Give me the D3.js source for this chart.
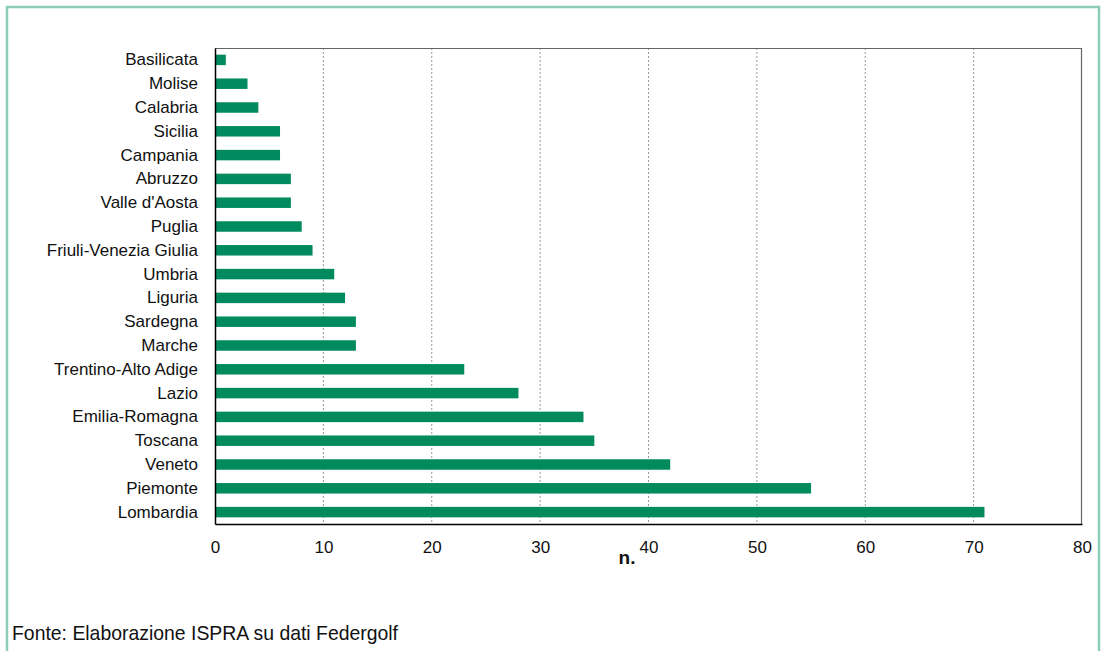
<!DOCTYPE html>
<html>
<head>
<meta charset="utf-8">
<script src="https://cdn.jsdelivr.net/npm/d3@7"></script>
<style>
  body { margin: 0; background: #fff; }
  text { font-family: "Liberation Sans", Arial, sans-serif; fill: #111; }
</style>
</head>
<body>
<script>
// regioni, dall'alto in basso
const regioni = ['Basilicata', 'Molise', 'Calabria', 'Sicilia', 'Campania', 'Abruzzo',
  "Valle d'Aosta", 'Puglia', 'Friuli-Venezia Giulia', 'Umbria', 'Liguria', 'Sardegna',
  'Marche', 'Trentino-Alto Adige', 'Lazio', 'Emilia-Romagna', 'Toscana', 'Veneto',
  'Piemonte', 'Lombardia'];
const campi = [1, 3, 4, 6, 6, 7, 7, 8, 9, 11, 12, 13, 13, 23, 28, 34, 35, 42, 55, 71];
const xTicks = [0, 10, 20, 30, 40, 50, 60, 70, 80];

const w = 1104, h = 651;
const pLeft = 215, pRight = 1082, pTop = 48, pBottom = 524;

const svg = d3.select('body').append('svg')
  .attr('width', w).attr('height', h);

// cornice
svg.append('path')
  .attr('d', `M7,${h} V7 H1099 V${h}`)
  .attr('fill', 'none').attr('stroke', '#8ccdb5').attr('stroke-width', 2.5);

const x = d3.scaleLinear().domain([0, 80]).range([pLeft, pRight]);
const y = d3.scaleBand().domain(regioni).range([pTop, pBottom]).paddingInner(0.56).paddingOuter(0.28);

// griglia
svg.append('g').selectAll('line')
  .data(xTicks.slice(1, -1))
  .enter().append('line')
  .attr('x1', d => x(d)).attr('x2', d => x(d))
  .attr('y1', pTop).attr('y2', pBottom)
  .attr('stroke', '#999').attr('stroke-dasharray', '2,2').attr('stroke-width', 1);

// riquadro superiore/destro
svg.append('path')
  .attr('d', `M${pLeft},${pTop + 0.5} H${pRight - 0.5} V${pBottom}`)
  .attr('fill', 'none').attr('stroke', '#666').attr('stroke-width', 1.2);

svg.selectAll('rect.bar')
  .data(campi)
  .enter().append('rect')
  .attr('class', 'bar')
  .attr('x', x(0))
  .attr('y', (d, i) => y(regioni[i]))
  .attr('width', d => x(d) - x(0))
  .attr('height', y.bandwidth())
  .attr('fill', '#008a5e');

// asse y
const yAxis = d3.axisLeft(y).tickSize(0).tickPadding(17);
const gy = svg.append('g').attr('transform', `translate(${pLeft},0)`).call(yAxis);
gy.attr('font-size', 17).attr('font-family', '"Liberation Sans", Arial, sans-serif');
gy.select('.domain').attr('stroke', '#000').attr('stroke-width', 1.5);
gy.selectAll('text').attr('fill', '#111');

// asse x
const xAxis = d3.axisBottom(x).tickValues(xTicks).tickSize(0).tickPadding(17);
const gx = svg.append('g').attr('transform', `translate(0,${pBottom})`).call(xAxis);
gx.attr('font-size', 17).attr('font-family', '"Liberation Sans", Arial, sans-serif');
gx.select('.domain').attr('stroke', '#000').attr('stroke-width', 1.5);
gx.selectAll('text').attr('fill', '#111');

svg.append('text')
  .attr('x', 627).attr('y', 564)
  .attr('text-anchor', 'middle')
  .attr('font-size', 19).attr('font-weight', 'bold')
  .text('n.');

svg.append('text')
  .attr('x', 12).attr('y', 640)
  .attr('textLength', 386)
  .attr('lengthAdjust', 'spacingAndGlyphs')
  .attr('font-size', 21)
  .text('Fonte: Elaborazione ISPRA su dati Federgolf');
</script>
</body>
</html>
